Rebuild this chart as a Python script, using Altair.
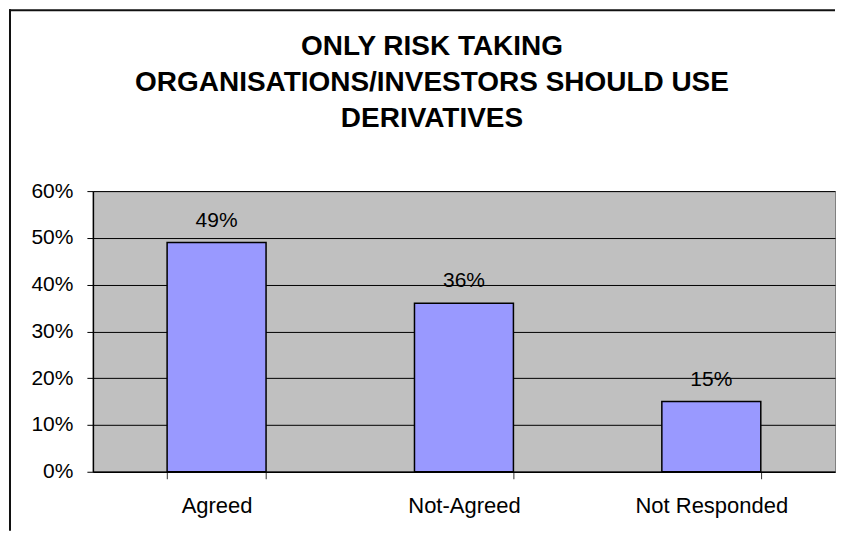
import altair as alt
import pandas as pd

categories = ["Agreed", "Not-Agreed", "Not Responded"]
shares = [0.49, 0.36, 0.15]
title_lines = ["ONLY RISK TAKING", "ORGANISATIONS/INVESTORS SHOULD USE", "DERIVATIVES"]
y_ticks = [0, 0.1, 0.2, 0.3, 0.4, 0.5, 0.6]

df = pd.DataFrame({"cat": categories, "share": shares})

FONT = "Liberation Sans"

x_enc = alt.X(
    "cat:N",
    sort=categories,
    title=None,
    scale=alt.Scale(paddingInner=0.6, paddingOuter=0.3),
    axis=alt.Axis(
        labelAngle=0,
        labelFont=FONT,
        labelFontSize=22,
        labelColor="#000000",
        labelPadding=17,
        tickBand="extent",
        tickSize=7,
        tickColor="#333333",
        domainColor="#000000",
        domainWidth=1.5,
        grid=False,
    ),
)
y_enc = alt.Y(
    "share:Q",
    title=None,
    scale=alt.Scale(domain=[0, 0.6], nice=False),
    axis=alt.Axis(
        values=y_ticks,
        format=".0%",
        labelFont=FONT,
        labelFontSize=21,
        labelColor="#000000",
        labelPadding=14,
        tickSize=6,
        tickColor="#000000",
        domainColor="#000000",
        domainWidth=1.5,
        grid=True,
        gridColor="#000000",
        gridWidth=1,
    ),
)

bars = alt.Chart(df).mark_bar(
    color="#9999FF", stroke="#000000", strokeWidth=1.5
).encode(x=x_enc, y=y_enc)

labels = alt.Chart(df).mark_text(
    font=FONT, fontSize=21, color="#000000", baseline="alphabetic", dy=-16
).encode(
    x=alt.X("cat:N", sort=categories),
    y="share:Q",
    text=alt.Text("share:Q", format=".0%"),
)

border_df = pd.DataFrame({"k": [0]})
left_border = alt.Chart(border_df).mark_rule(color="#111111", strokeWidth=2).encode(
    x=alt.value(-83), y=alt.value(-182), y2=alt.value(340)
)
top_border = alt.Chart(border_df).mark_rule(color="#111111", strokeWidth=2).encode(
    y=alt.value(-181), x=alt.value(-84), x2=alt.value(743)
)

chart = (
    alt.layer(bars, labels, left_border, top_border)
    .properties(
        width=743,
        height=281,
        padding=0,
        background="#FFFFFF",
        title=alt.TitleParams(
            title_lines,
            font=FONT,
            fontSize=28,
            fontWeight="bold",
            color="#000000",
            lineHeight=36,
            anchor="middle",
            dx=-32,
            offset=-125,
        ),
    )
    .configure_view(fill="#C0C0C0", stroke="#808080", strokeWidth=1)
)

chart.save("out.html", embed_options={"renderer": "svg", "actions": False})
